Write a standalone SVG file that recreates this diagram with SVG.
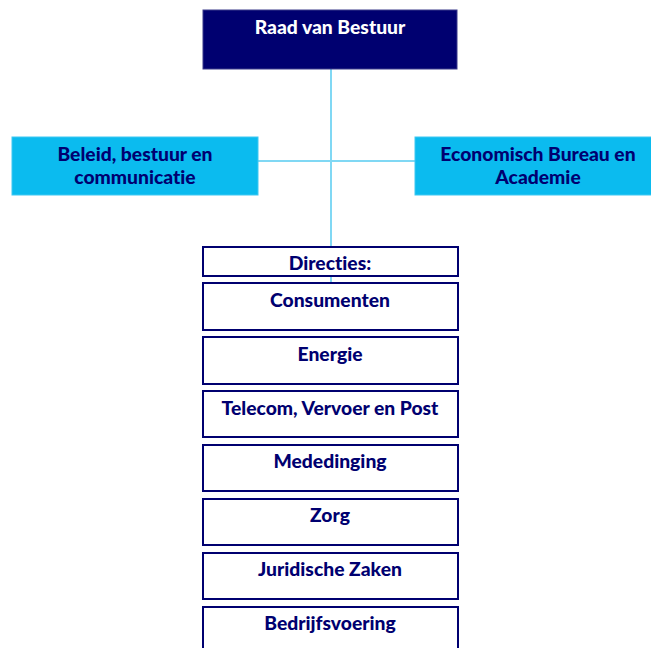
<svg xmlns="http://www.w3.org/2000/svg" width="651" height="648" viewBox="0 0 651 648">
<style>
text{font-family:Lato,"Open Sans","Liberation Sans",sans-serif;font-weight:900;font-size:19.3px;text-anchor:middle;fill:#000070;font-variant-ligatures:none}
.w{fill:#ffffff}
.dir{fill:#ffffff;stroke:#000070;stroke-width:2}
.side{fill:#0bbbef;stroke:#3fc8f2;stroke-width:1}
.conn{stroke:#80d8f4;stroke-width:2;fill:none}
</style>
<rect width="651" height="648" fill="#ffffff"/>
<g id="connectors">
<line class="conn" x1="331" y1="69" x2="331" y2="283"/>
<line class="conn" x1="258" y1="161" x2="415" y2="161"/>
</g>
<g id="raad">
<rect x="203" y="10" width="254" height="59" fill="#000070" stroke="#3a3a8a" stroke-width="1"/>
<text class="w" x="330" y="34">Raad van Bestuur</text>
</g>
<g id="beleid">
<rect class="side" x="12" y="137" width="246" height="58"/>
<text x="135" y="161">Beleid, bestuur en</text>
<text x="135" y="184">communicatie</text>
</g>
<g id="economisch">
<rect class="side" x="415" y="137" width="240" height="58"/>
<text x="538" y="161">Economisch Bureau en</text>
<text x="538" y="184">Academie</text>
</g>
<g id="directies">
<rect class="dir" x="203" y="247" width="255" height="29"/>
<text x="330" y="270">Directies:</text>
</g>
<g id="consumenten">
<rect class="dir" x="203" y="283" width="255" height="47"/>
<text x="330" y="307">Consumenten</text>
</g>
<g id="energie">
<rect class="dir" x="203" y="337" width="255" height="47"/>
<text x="330" y="361">Energie</text>
</g>
<g id="telecom">
<rect class="dir" x="203" y="391" width="255" height="46"/>
<text x="330" y="415">Telecom, Vervoer en Post</text>
</g>
<g id="mededinging">
<rect class="dir" x="203" y="445" width="255" height="46"/>
<text x="330" y="468">Mededinging</text>
</g>
<g id="zorg">
<rect class="dir" x="203" y="499" width="255" height="46"/>
<text x="330" y="522">Zorg</text>
</g>
<g id="juridische">
<rect class="dir" x="203" y="553" width="255" height="46"/>
<text x="330" y="576">Juridische Zaken</text>
</g>
<g id="bedrijfsvoering">
<rect class="dir" x="203" y="607" width="255" height="46"/>
<text x="330" y="630">Bedrijfsvoering</text>
</g>
</svg>
